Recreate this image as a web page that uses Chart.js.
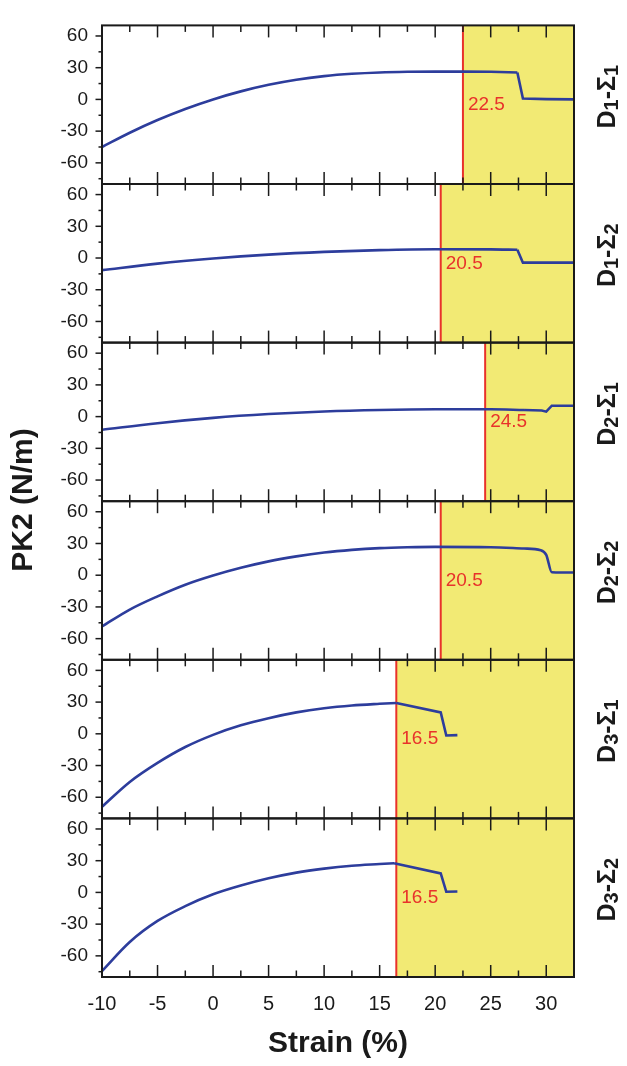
<!DOCTYPE html>
<html>
<head>
<meta charset="utf-8">
<script src="https://cdn.jsdelivr.net/npm/chart.js@4.4.1/dist/chart.umd.min.js"></script>
<style>
  html, body { margin: 0; padding: 0; background: #fff; }
  #wrap { position: relative; width: 627px; height: 1066px; }
</style>
</head>
<body>
<div id="wrap"><canvas id="pk2Chart" width="627" height="1066"></canvas></div>
<script>
// panel names, top to bottom
var panelNames = ['D1-Σ1', 'D1-Σ2', 'D2-Σ1', 'D2-Σ2', 'D3-Σ1', 'D3-Σ2'];
// critical strain (%) marked by the red line in each panel
var criticalStrain = [22.5, 20.5, 24.5, 20.5, 16.5, 16.5];

// curves: strain (%) and PK2 (N/m)
var strainD1S1 = [-10, -7.5, -5, -2.5, 0, 2.5, 5, 7.5, 10, 12.5, 15, 17.5, 20, 22.5, 25, 27.4, 27.9, 30, 32.5];
var pk2D1S1    = [-45, -31.5, -19.5, -9, 0, 7.6, 13.8, 18.6, 22, 24.2, 25.5, 26.1, 26.3, 26.3, 26.1, 25.5, 0.8, 0.3, 0];

var strainD1S2 = [-10, -5, 0, 5, 10, 15, 20, 25, 27.4, 27.9, 30, 32.5];
var pk2D1S2    = [-11.5, -5.3, -0.5, 3.2, 5.8, 7.5, 8.3, 8.2, 7.8, -4.4, -4.4, -4.4];

var strainD2S1 = [-10, -5, 0, 5, 10, 15, 20, 25, 28, 29.6, 30, 30.5, 32.5];
var pk2D2S1    = [-12.5, -6.2, -1.2, 2.4, 4.9, 6.3, 6.9, 6.9, 6.2, 5.8, 4.7, 10.3, 10.3];

var strainD2S2 = [-10, -7.5, -5, -2.5, 0, 2.5, 5, 7.5, 10, 12.5, 15, 17.5, 20, 25, 28, 29.5, 30, 30.5, 32.5];
var pk2D2S2    = [-48.5, -32.5, -20, -9, -0.3, 7, 13.1, 17.8, 21.5, 24, 25.6, 26.4, 26.8, 26.5, 25.2, 23.7, 19.3, 2.8, 2.5];

var strainD3S1 = [-10, -7.5, -5, -2.5, 0, 2.5, 5, 7.5, 10, 12.5, 15, 16.5, 20.5, 21, 22];
var pk2D3S1    = [-69, -45.5, -27.5, -12.5, -1, 8, 14.8, 20.3, 24.2, 26.8, 28.4, 29.2, 20.2, -1.6, -1.2];

var strainD3S2 = [-10, -7.5, -5, -2.5, 0, 2.5, 5, 7.5, 10, 12.5, 15, 16.3, 20.5, 21, 22];
var pk2D3S2    = [-74.4, -46.9, -27, -13, -1.8, 6.5, 13.3, 18.7, 22.5, 25.2, 26.8, 27.6, 18, 0.6, 0.9];

var strainSets = [strainD1S1, strainD1S2, strainD2S1, strainD2S2, strainD3S1, strainD3S2];
var pk2Sets    = [pk2D1S1, pk2D1S2, pk2D2S1, pk2D2S2, pk2D3S1, pk2D3S2];
// index where the smooth rise ends and the straight failure segments start
var tailFrom   = [15, 8, 8, 18, 11, 11];

// axes
var xMin = -10, xMax = 32.5;
var xTickLabels = [-10, -5, 0, 5, 10, 15, 20, 25, 30];
var yMin = -80, yMax = 70;
var yTickLabels = [-60, -30, 0, 30, 60];

var blue = '#2d3d9c';
var red = '#e8322b';
var yellow = '#f2ea74';
var ink = '#1a1a1a';
var font = "'Liberation Sans', Arial, sans-serif";

var datasets = [];
var scales = {
  x: {
    type: 'linear',
    position: 'bottom',
    min: xMin,
    max: xMax,
    afterBuildTicks: function(s) { s.ticks = xTickLabels.map(function(v) { return {value: v}; }); },
    afterFit: function(s) { s.height = 89; },
    grid: { display: false, drawTicks: false },
    border: { display: false },
    ticks: { color: ink, font: { size: 20, family: font }, padding: 15, maxRotation: 0, autoSkip: false },
    title: { display: true, text: 'Strain (%)', color: ink, font: { size: 30, weight: 'bold', family: font }, padding: { top: 0, bottom: 4 } }
  }
};

function curve(label, pts, axis, mode) {
  return {
    label: label,
    data: pts,
    xAxisID: 'x',
    yAxisID: axis,
    borderColor: blue,
    borderWidth: 2.6,
    pointRadius: 0,
    fill: false,
    cubicInterpolationMode: mode,
    tension: 0
  };
}

for (var i = 0; i < panelNames.length; i++) {
  var pts = [];
  for (var j = 0; j < strainSets[i].length; j++) {
    pts.push({ x: strainSets[i][j], y: pk2Sets[i][j] });
  }
  datasets.push(curve(panelNames[i], pts.slice(0, tailFrom[i] + 1), 'y' + i, 'monotone'));
  var tail = pts.slice(tailFrom[i]);
  if (tail.length > 1) datasets.push(curve(panelNames[i] + ' tail', tail, 'y' + i, 'default'));
}

// stacked y scales: the first one added ends up at the bottom, so add them bottom-up
for (var n = panelNames.length - 1; n >= 0; n--) {
  scales['y' + n] = {
    type: 'linear',
    position: 'left',
    stack: 'panels',
    min: yMin,
    max: yMax,
    afterBuildTicks: function(s) { s.ticks = yTickLabels.map(function(v) { return {value: v}; }); },
    afterFit: function(s) { s.width = 90; },
    grid: { display: false, drawTicks: false },
    border: { display: false },
    ticks: { color: ink, font: { size: 19, family: font }, padding: 14, autoSkip: false }
  };
}

function line(ctx, x1, y1, x2, y2) {
  ctx.beginPath();
  ctx.moveTo(x1, y1);
  ctx.lineTo(x2, y2);
  ctx.stroke();
}

var panelDecor = {
  id: 'panelDecor',
  beforeDatasetsDraw: function(chart) {
    var ctx = chart.ctx, xs = chart.scales.x;
    for (var i = 0; i < panelNames.length; i++) {
      var ys = chart.scales['y' + i];
      var xc = xs.getPixelForValue(criticalStrain[i]);
      ctx.save();
      ctx.fillStyle = yellow;
      ctx.fillRect(xc, ys.top, xs.right - xc, ys.bottom - ys.top);
      ctx.strokeStyle = red;
      ctx.lineWidth = 2;
      line(ctx, xc, ys.top, xc, ys.bottom);
      ctx.restore();
    }
  },
  afterDraw: function(chart) {
    var ctx = chart.ctx, xs = chart.scales.x;
    ctx.save();
    ctx.strokeStyle = ink;
    for (var i = 0; i < panelNames.length; i++) {
      var ys = chart.scales['y' + i];
      var top = ys.top, bottom = ys.bottom, left = xs.left, right = xs.right;

      // critical strain label
      ctx.fillStyle = red;
      ctx.font = '19px ' + font;
      ctx.textAlign = 'left';
      ctx.textBaseline = 'middle';
      ctx.fillText(String(criticalStrain[i]), xs.getPixelForValue(criticalStrain[i]) + 5, ys.getPixelForValue(-5));

      // x ticks, inward on top and bottom
      ctx.lineWidth = 1.5;
      for (var v = xMin; v <= xMax; v += 2.5) {
        var px = xs.getPixelForValue(v);
        var len = (v % 5 === 0) ? 12 : 6.5;
        line(ctx, px, top, px, top + len);
        line(ctx, px, bottom, px, bottom - len);
      }
      // y ticks, outward on the left
      for (var w = -75; w <= 60; w += 15) {
        var py = ys.getPixelForValue(w);
        var l2 = (w % 30 === 0) ? 6.5 : 3.5;
        line(ctx, left - l2, py, left, py);
      }
      // frame
      ctx.lineWidth = 2;
      ctx.strokeRect(left, top, right - left, bottom - top);

      // panel name on the right, digits set smaller
      var name = panelNames[i];
      var cx = 606, cy = (top + bottom) / 2 - 8;
      var big = 'bold 25px ' + font, small = 'bold 20px ' + font;
      var total = 0;
      for (var k = 0; k < name.length; k++) {
        ctx.font = /\d/.test(name[k]) ? small : big;
        total += ctx.measureText(name[k]).width;
      }
      ctx.save();
      ctx.translate(cx, cy);
      ctx.rotate(-Math.PI / 2);
      ctx.fillStyle = ink;
      ctx.textAlign = 'left';
      ctx.textBaseline = 'alphabetic';
      var pos = -total / 2;
      for (var k2 = 0; k2 < name.length; k2++) {
        var isDigit = /\d/.test(name[k2]);
        ctx.font = isDigit ? small : big;
        ctx.fillText(name[k2], pos, isDigit ? 12 : 9);
        pos += ctx.measureText(name[k2]).width;
      }
      ctx.restore();
    }

    // y axis title
    ctx.translate(24, 500);
    ctx.rotate(-Math.PI / 2);
    ctx.fillStyle = ink;
    ctx.font = 'bold 30px ' + font;
    ctx.textAlign = 'center';
    ctx.textBaseline = 'middle';
    ctx.fillText('PK2 (N/m)', 0, 0);
    ctx.restore();
  }
};

var ctx = document.getElementById('pk2Chart').getContext('2d');
var pk2Chart = new Chart(ctx, {
  type: 'line',
  data: { datasets: datasets },
  options: {
    responsive: false,
    animation: false,
    layout: { padding: { left: 12, right: 53, top: 17, bottom: 0 } },
    plugins: { legend: { display: false }, tooltip: { enabled: false } },
    scales: scales
  },
  plugins: [panelDecor]
});
</script>
</body>
</html>
